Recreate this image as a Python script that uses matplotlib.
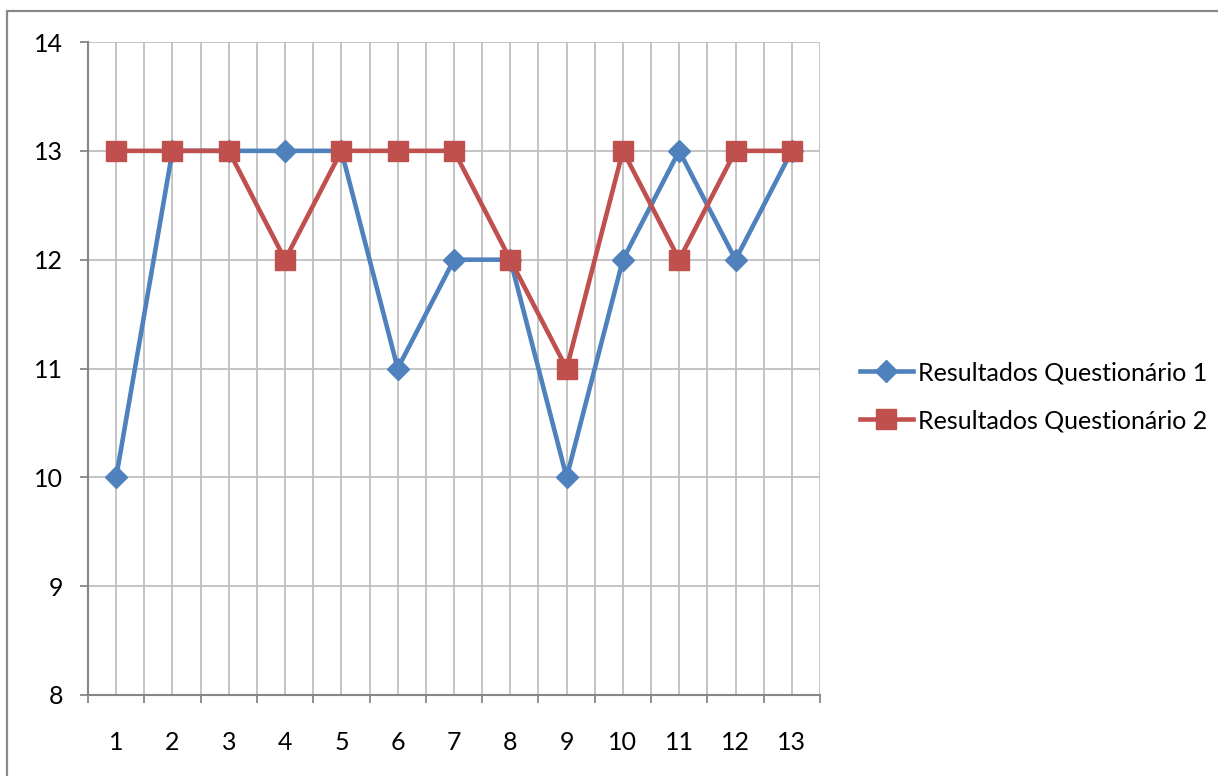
import matplotlib.pyplot as plt
from matplotlib.patches import Rectangle

plt.rcParams["font.family"] = ["Lato", "DejaVu Sans"]

categories = ["1", "2", "3", "4", "5", "6", "7", "8", "9", "10", "11", "12", "13"]
questionario_1 = [10, 13, 13, 13, 13, 11, 12, 12, 10, 12, 13, 12, 13]
questionario_2 = [13, 13, 13, 12, 13, 13, 13, 12, 11, 13, 12, 13, 13]
y_ticks = [8, 9, 10, 11, 12, 13, 14]

W, H = 1218, 776
fig = plt.figure(figsize=(W / 100, H / 100), dpi=100)

# chart frame
fig.patches.append(Rectangle((7 / W, -0.05), 1.1, (H - 11) / H + 0.05,
                             transform=fig.transFigure, fill=False,
                             edgecolor="#898989", linewidth=1.6))

ax = fig.add_axes([88 / W, (H - 695) / H, (820 - 88) / W, (695 - 42) / H])
x = list(range(len(categories)))

ax.plot(x, questionario_1, color="#4F81BD", linewidth=3.3, marker="D",
        markersize=11, label="Resultados Questionário 1", zorder=3)
ax.plot(x, questionario_2, color="#C0504D", linewidth=3.3, marker="s",
        markersize=14, label="Resultados Questionário 2", zorder=4)

ax.set_xlim(-0.5, len(categories) - 0.5)
ax.set_ylim(8, 14)
ax.set_yticks(y_ticks)
ax.set_xticks(x)
ax.set_xticklabels(categories)
ax.set_xticks([i - 0.5 for i in range(len(categories) + 1)], minor=True)

ax.grid(True, which="both", axis="x", color="#BFBFBF", linewidth=1.3)
ax.grid(True, which="major", axis="y", color="#BFBFBF", linewidth=1.3)
ax.set_axisbelow(True)

for side in ("top", "right"):
    ax.spines[side].set_visible(False)
for side in ("left", "bottom"):
    ax.spines[side].set_color("#868686")
    ax.spines[side].set_linewidth(1.5)

ax.tick_params(axis="x", which="major", length=0, pad=26, labelsize=18)
ax.tick_params(axis="x", which="minor", length=6, width=1.3, color="#868686", direction="out")
ax.tick_params(axis="y", which="major", length=6, width=1.3, color="#868686",
               direction="out", pad=12, labelsize=18)

ax.legend(loc="center left", bbox_to_anchor=(1.0, 0.457), frameon=False,
          fontsize=18, handlelength=2.1, handletextpad=0.2, labelspacing=1.0,
          borderaxespad=1.2)

fig.savefig("out.png", dpi=100)
